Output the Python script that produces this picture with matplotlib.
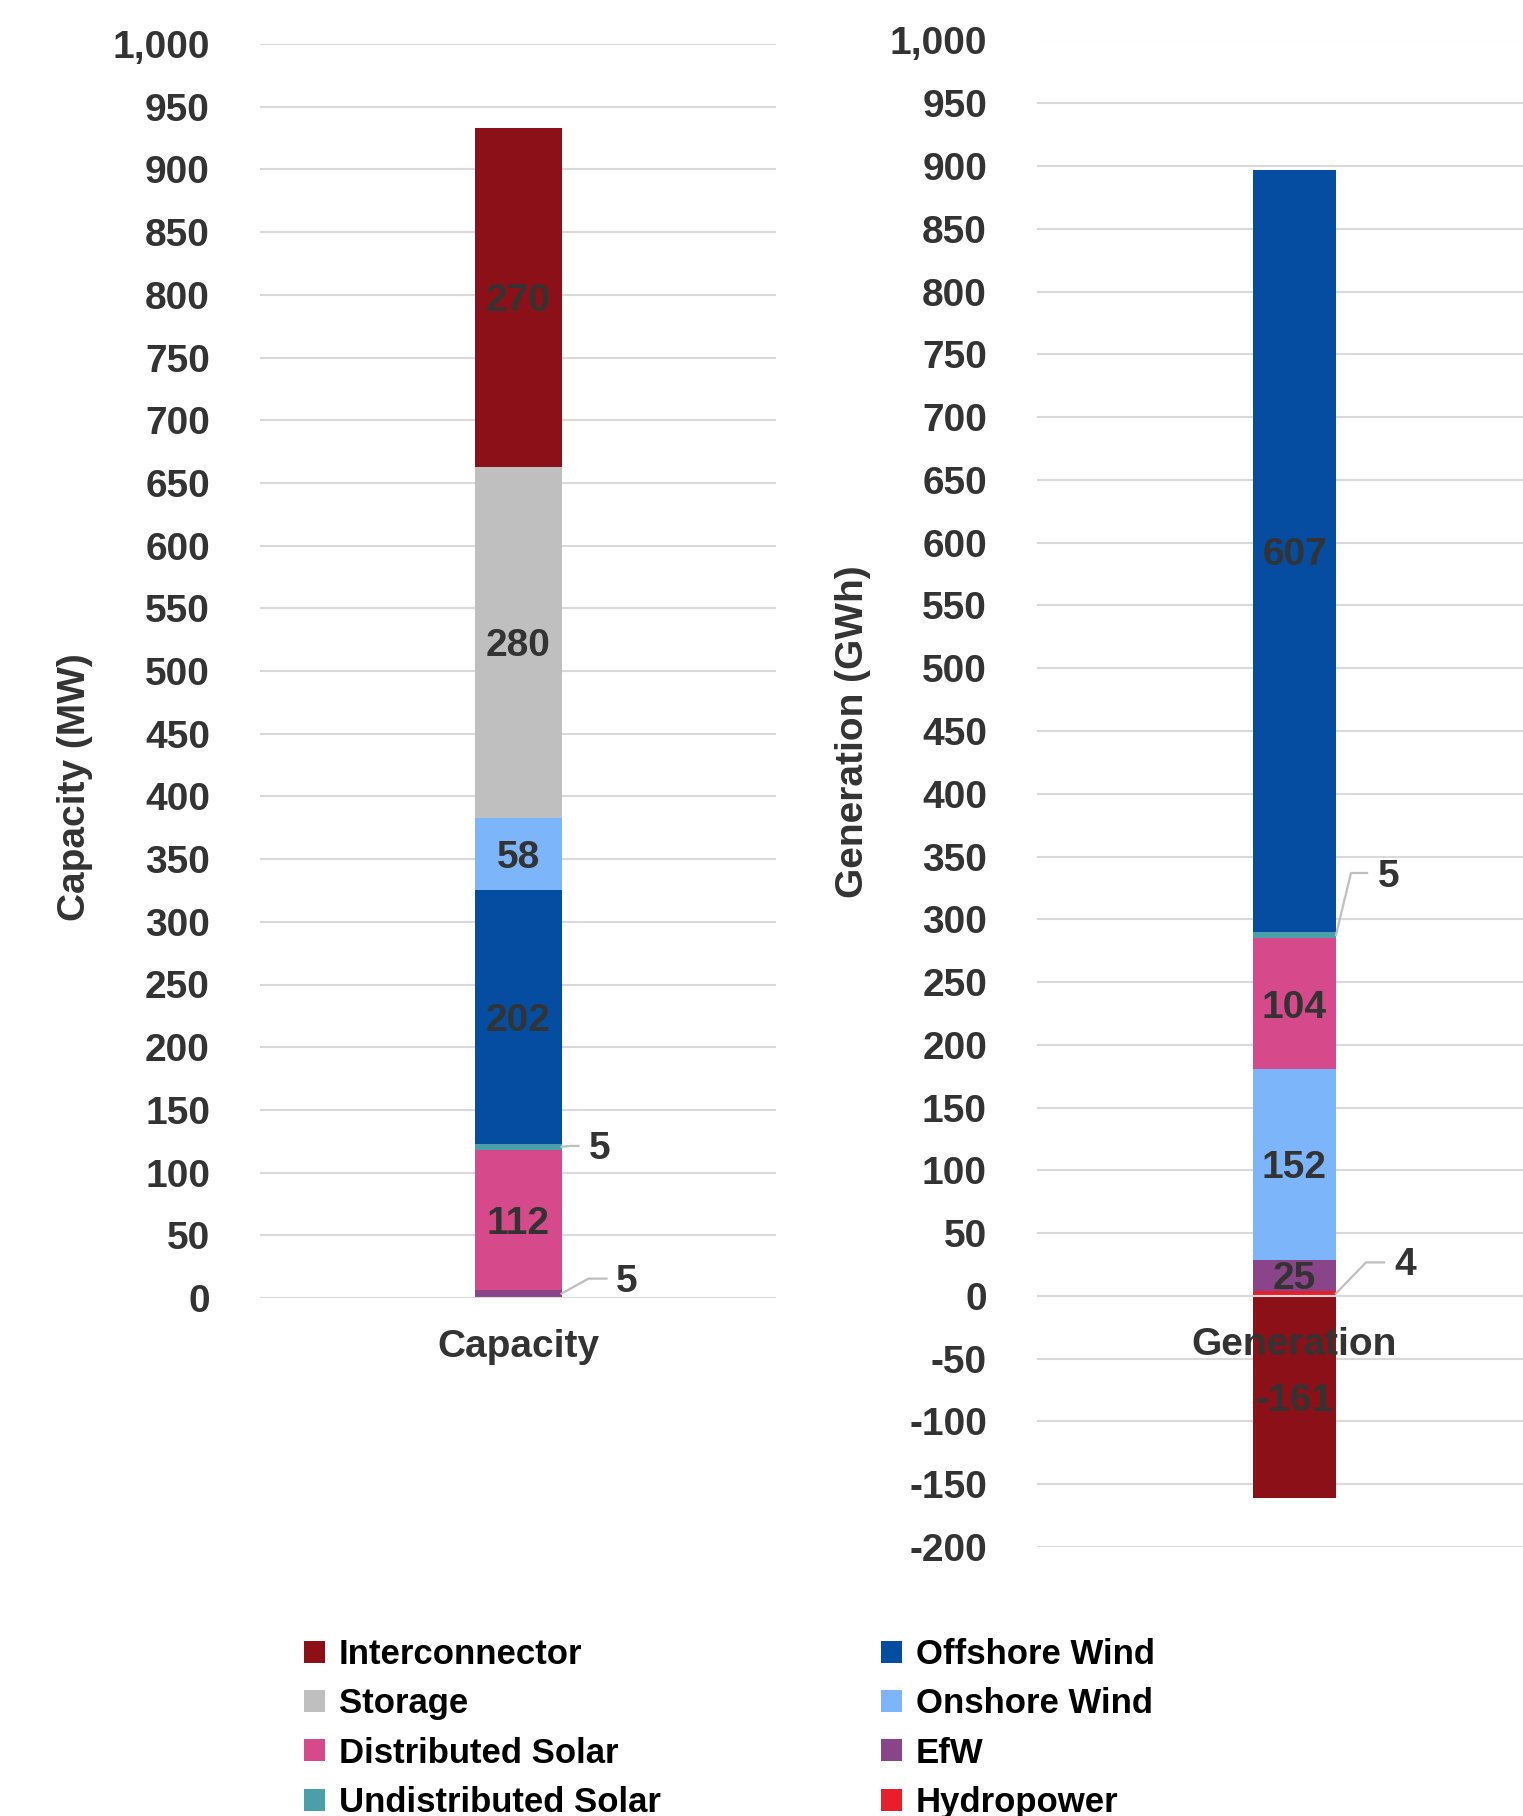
import matplotlib
matplotlib.use("Agg")
import matplotlib.pyplot as plt
from matplotlib.patches import Patch
from matplotlib.lines import Line2D
from matplotlib.ticker import FuncFormatter, MultipleLocator

plt.rcParams['font.family'] = ['Liberation Sans', 'DejaVu Sans']
plt.rcParams['font.weight'] = 'bold'

# ---- data ----
cap_series = ["Hydropower", "EfW", "Distributed Solar", "Undistributed Solar",
              "Offshore Wind", "Onshore Wind", "Storage", "Interconnector"]
cap_values = [1, 5, 112, 5, 202, 58, 280, 270]

gen_series = ["Hydropower", "EfW", "Onshore Wind", "Distributed Solar",
              "Undistributed Solar", "Offshore Wind"]
gen_values = [4, 25, 152, 104, 5, 607]
gen_neg_series = ["Interconnector"]
gen_neg_values = [-161]

cap_category = "Capacity"
gen_category = "Generation"
cap_ylabel = "Capacity (MW)"
gen_ylabel = "Generation (GWh)"

legend_order = ["Interconnector", "Storage", "Distributed Solar", "Undistributed Solar",
                "Offshore Wind", "Onshore Wind", "EfW", "Hydropower"]

colors = {
    "Interconnector": "#8B1018",
    "Storage": "#BFBFBF",
    "Distributed Solar": "#D6498A",
    "Undistributed Solar": "#4A9FA8",
    "Offshore Wind": "#054DA0",
    "Onshore Wind": "#7DB5FA",
    "EfW": "#8A4489",
    "Hydropower": "#E81E2A",
}

W, H = 1523, 1816
fig = plt.figure(figsize=(W / 100, H / 100), dpi=100)

TXT = "#333333"
GRID = "#D9D9D9"
FS = 28

def px_axes(x0, y_top, x1, y_bot):
    return fig.add_axes([x0 / W, 1 - y_bot / H, (x1 - x0) / W, (y_bot - y_top) / H])

ax1 = px_axes(260, 44, 776, 1298)
ax2 = px_axes(1037, 40.5, 1552, 1547)

def style(ax, ylim):
    ax.set_xlim(-0.5, 0.5)
    ax.set_ylim(*ylim)
    ax.yaxis.set_major_locator(MultipleLocator(50))
    ax.yaxis.set_major_formatter(FuncFormatter(lambda v, p: f"{v:,.0f}"))
    ax.grid(axis='y', color=GRID, linewidth=1.5, zorder=0)
    ax.set_axisbelow(True)
    for s in ax.spines.values():
        s.set_visible(False)
    ax.tick_params(axis='y', length=0, pad=36, labelsize=FS, labelcolor=TXT)
    ax.set_xticks([])
    ax.patch.set_visible(False)

style(ax1, (0, 1000))
style(ax2, (-200, 1000))

def stack(ax, names, vals, width, big_threshold=20):
    bottom = 0
    for n, v in zip(names, vals):
        ax.bar(0, v, width=width, bottom=bottom, color=colors[n], zorder=2, linewidth=0)
        if abs(v) >= big_threshold:
            ax.annotate(f"{v:,.0f}", xy=(0, bottom + v / 2), xytext=(0, -3),
                        textcoords='offset points', ha='center', va='center',
                        fontsize=FS, color=TXT, fontweight='bold', zorder=4)
        bottom += v

W1 = 87 / 516
W2 = 83 / 515
stack(ax1, cap_series, cap_values, W1)
stack(ax2, gen_series, gen_values, W2)
stack(ax2, gen_neg_series, gen_neg_values, W2)

for ax in (ax1, ax2):
    ax.axhline(0, color=GRID, linewidth=1.5, zorder=3)

# category labels just below the zero line, drawn above the bars
for ax, cat in ((ax1, cap_category), (ax2, gen_category)):
    ax.annotate(cat, xy=(0, 0), xytext=(0, -35), textcoords='offset points',
                ha='center', va='center', fontsize=FS, color=TXT, fontweight='bold',
                zorder=6, annotation_clip=False)

fig.text(75 / W, 1 - 787 / H, cap_ylabel, rotation=90, ha='center', va='center',
         fontsize=FS, color=TXT, fontweight='bold')
fig.text(853 / W, 1 - 732 / H, gen_ylabel, rotation=90, ha='center', va='center',
         fontsize=FS, color=TXT, fontweight='bold')

# ---- leader-line labels for small segments ----
def leader(ax, names, vals, target, width, elbow, end, lab):
    bottom = 0
    for n, v in zip(names, vals):
        if n == target:
            mid = bottom + v / 2
            break
        bottom += v
    x0, y0 = ax.transData.transform((width / 2, mid))
    pts_x = [x0, x0 + elbow[0], x0 + end[0]]
    pts_y = [y0, y0 - elbow[1], y0 - end[1]]
    fig.add_artist(Line2D(pts_x, pts_y, transform=None, color="#BFBFBF", linewidth=1.6))
    fig.text((x0 + lab[0]) / W, (y0 - lab[1]) / H, f"{v:,.0f}", ha='left', va='center',
             fontsize=FS, color=TXT, fontweight='bold')

leader(ax1, cap_series, cap_values, "Undistributed Solar", W1, (9, -1), (17, -1), (27, 2))
leader(ax1, cap_series, cap_values, "EfW", W1, (27, -15), (45, -15), (54, -12))
leader(ax2, gen_series, gen_values, "Undistributed Solar", W2, (15, -62), (31, -62), (42, -58))
leader(ax2, gen_series, gen_values, "Hydropower", W2, (30, -31), (48, -31), (58, -28))

# ---- legend ----
handles = [Patch(facecolor=colors[n], edgecolor='none', label=n) for n in legend_order]
fig.legend(handles=handles, ncol=2, loc='upper left',
           bbox_to_anchor=(304 / W, 1 - 1638 / H), frameon=False,
           fontsize=25, handlelength=0.6, handleheight=0.6, handletextpad=0.4,
           columnspacing=6.35, labelspacing=0.47, borderaxespad=0, borderpad=0)

fig.savefig("out.png", dpi=100)
